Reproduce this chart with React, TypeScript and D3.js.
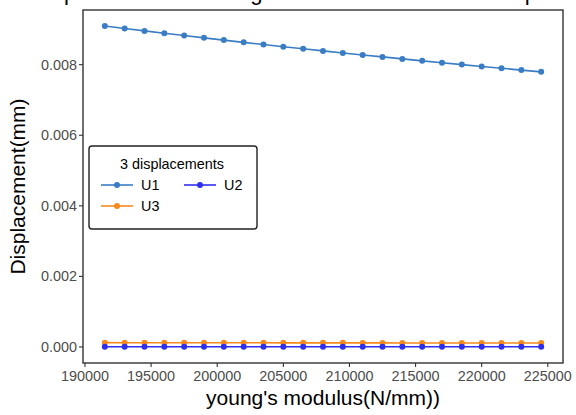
import React from "react";
import * as d3 from "d3";

// young's modulus (N/mm) sampled values
const modulus = [
  191500, 193000, 194500, 196000, 197500, 199000, 200500, 202000, 203500,
  205000, 206500, 208000, 209500, 211000, 212500, 214000, 215500, 217000,
  218500, 220000, 221500, 223000, 224500,
];

// displacement (mm)
const u1 = [
  0.009095, 0.009026, 0.008958, 0.008891, 0.008825, 0.00876, 0.008696,
  0.008633, 0.008571, 0.00851, 0.00845, 0.008391, 0.008333, 0.008276,
  0.00822, 0.008164, 0.008109, 0.008055, 0.008002, 0.00795, 0.007898,
  0.007847, 0.007797,
];
const u2 = [
  0.000004, 0.000004, 0.000004, 0.000004, 0.000004, 0.000004, 0.000004,
  0.000004, 0.000004, 0.000004, 0.000004, 0.000004, 0.000004, 0.000004,
  0.000004, 0.000004, 0.000004, 0.000004, 0.000004, 0.000004, 0.000004,
  0.000004, 0.000004,
];
const u3 = [
  0.000122, 0.000121, 0.000121, 0.00012, 0.00012, 0.000119, 0.000119,
  0.000118, 0.000118, 0.000117, 0.000117, 0.000116, 0.000116, 0.000115,
  0.000115, 0.000114, 0.000114, 0.000113, 0.000113, 0.000112, 0.000112,
  0.000111, 0.000111,
];

const xTicks = [190000, 195000, 200000, 205000, 210000, 215000, 220000, 225000];
const yTicks = [0, 0.002, 0.004, 0.006, 0.008];

const seriesNames = ["U1", "U2", "U3"];
const seriesColors = ["#3a7dc4", "#2f2ff0", "#f68a1e"];

const W = 576;
const H = 415;
const panel = { left: 83, right: 563, top: 10, bottom: 363 };
const font = "'Liberation Sans', Arial, Helvetica, sans-serif";

export default function App() {
  const xExt = d3.extent(modulus) as [number, number];
  const xPad = (xExt[1] - xExt[0]) * 0.05;
  const x = d3
    .scaleLinear()
    .domain([xExt[0] - xPad, xExt[1] + xPad])
    .range([panel.left, panel.right]);

  const yMax = d3.max(u1) as number;
  const yPad = yMax * 0.05;
  const y = d3
    .scaleLinear()
    .domain([-yPad, yMax + yPad])
    .range([panel.bottom, panel.top]);

  const all = [u1, u2, u3];
  const line = d3
    .line<number>()
    .x((d, i) => x(modulus[i]))
    .y((d) => y(d));

  // draw order: U1, U3, U2 (U2 sits on top at bottom)
  const order = [0, 2, 1];

  return (
    <svg
      width={W}
      height={H}
      style={{ position: "absolute", left: 0, top: 0, background: "#fff" }}
      fontFamily={font}
    >
      <rect x={0} y={0} width={W} height={H} fill="#fff" />
      <text x={32} y={0} fontSize={22.2} fill="#000">
        Displacement vs Young's modulus of the nodal displacements
      </text>

      {order.map((k) => (
        <g key={seriesNames[k]}>
          <path
            d={line(all[k]) as string}
            fill="none"
            stroke={seriesColors[k]}
            strokeWidth={1.6}
          />
          {all[k].map((v, i) => (
            <circle
              key={i}
              cx={x(modulus[i])}
              cy={y(v)}
              r={3}
              fill={seriesColors[k]}
            />
          ))}
        </g>
      ))}

      <rect
        x={panel.left}
        y={panel.top}
        width={panel.right - panel.left}
        height={panel.bottom - panel.top}
        fill="none"
        stroke="#333"
        strokeWidth={1.4}
      />

      {xTicks.map((t) => (
        <g key={t}>
          <line
            x1={x(t)}
            x2={x(t)}
            y1={panel.bottom}
            y2={panel.bottom + 4}
            stroke="#333"
            strokeWidth={1.1}
          />
          <text
            x={x(t)}
            y={panel.bottom + 18}
            textAnchor="middle"
            fontSize={14.4}
            fill="#4d4d4d"
          >
            {t}
          </text>
        </g>
      ))}
      {yTicks.map((t) => (
        <g key={t}>
          <line
            x1={panel.left - 4}
            x2={panel.left}
            y1={y(t)}
            y2={y(t)}
            stroke="#333"
            strokeWidth={1.1}
          />
          <text
            x={panel.left - 6}
            y={y(t) + 5}
            textAnchor="end"
            fontSize={14.4}
            fill="#4d4d4d"
          >
            {d3.format(".3f")(t)}
          </text>
        </g>
      ))}

      <text
        x={(panel.left + panel.right) / 2}
        y={405}
        textAnchor="middle"
        fontSize={21}
        fill="#000"
      >
        young's modulus(N/mm))
      </text>
      <text
        transform={`translate(25,${(panel.top + panel.bottom) / 2}) rotate(-90)`}
        textAnchor="middle"
        fontSize={21}
        fill="#000"
      >
        Displacement(mm)
      </text>

      <g>
        <rect
          x={89}
          y={146}
          width={168}
          height={83}
          rx={3}
          fill="#fff"
          stroke="#222"
          strokeWidth={1.4}
        />
        <text x={172} y={169} textAnchor="middle" fontSize={14.4} fill="#000">
          3 displacements
        </text>
        {[
          { k: 0, lx: 101, ly: 185 },
          { k: 1, lx: 184, ly: 185 },
          { k: 2, lx: 101, ly: 206 },
        ].map(({ k, lx, ly }) => (
          <g key={seriesNames[k]}>
            <line
              x1={lx}
              x2={lx + 32}
              y1={ly}
              y2={ly}
              stroke={seriesColors[k]}
              strokeWidth={1.6}
            />
            <circle cx={lx + 16} cy={ly} r={3} fill={seriesColors[k]} />
            <text x={lx + 40} y={ly + 5} fontSize={14.4} fill="#000">
              {seriesNames[k]}
            </text>
          </g>
        ))}
      </g>
    </svg>
  );
}
